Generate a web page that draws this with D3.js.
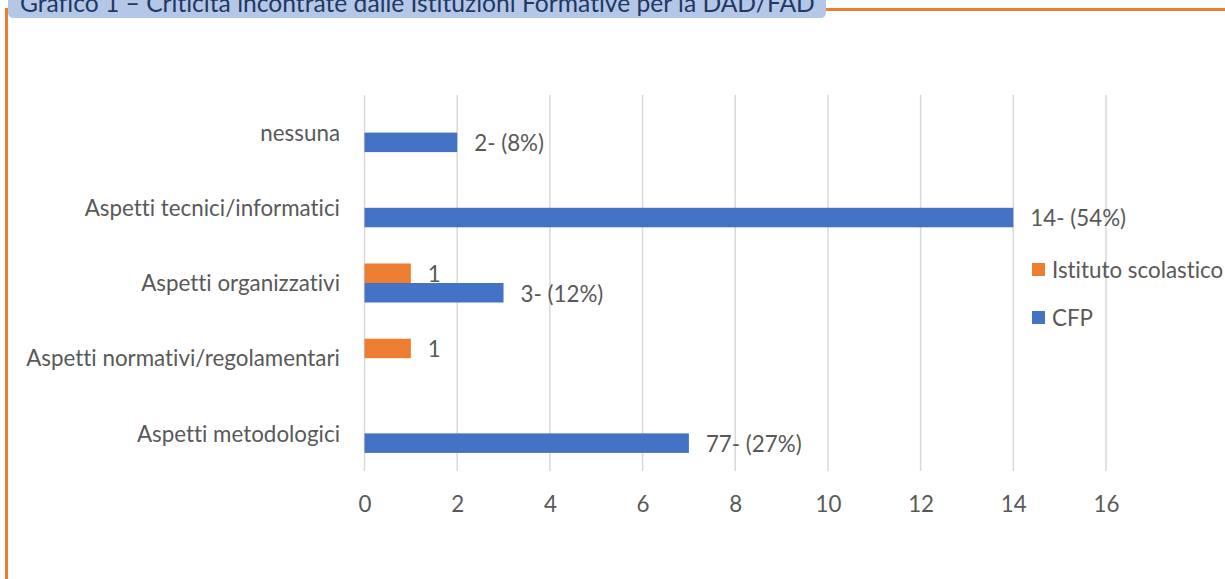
<!DOCTYPE html>
<html>
<head>
<meta charset="utf-8">
<script src="https://cdn.jsdelivr.net/npm/d3@7"></script>
<style>
  html, body { margin: 0; padding: 0; background: #fff; }
  svg { display: block; }
  text { font-variant-ligatures: none; font-feature-settings: "liga" 0, "clig" 0; }
</style>
</head>
<body>
<svg id="chart" width="1225" height="579"></svg>
<script>
const title = "Grafico 1 – Criticità incontrate dalle Istituzioni Formative per la DAD/FAD";
const categories = ["nessuna", "Aspetti tecnici/informatici", "Aspetti organizzativi", "Aspetti normativi/regolamentari", "Aspetti metodologici"];
const seriesNames = ["Istituto scolastico", "CFP"];
const istitutoValues = [null, null, 1, 1, null];
const cfpValues = [2, 14, 3, null, 7];
const istitutoLabels = ["", "", "1", "1", ""];
const cfpLabels = ["2- (8%)", "14- (54%)", "3- (12%)", "", "77- (27%)"];
const xTicks = [0, 2, 4, 6, 8, 10, 12, 14, 16];
const colors = { "Istituto scolastico": "#ED7D31", "CFP": "#4472C4" };

const svg = d3.select("#chart");
const FONT = "Lato, 'Open Sans', sans-serif";
const TXT = "#595959";

// frame lines
svg.append("line").attr("x1", 5).attr("x2", 1225).attr("y1", 9.5).attr("y2", 9.5)
  .attr("stroke", "#ED7D31").attr("stroke-width", 3);
svg.append("line").attr("x1", 6.5).attr("x2", 6.5).attr("y1", 8).attr("y2", 579)
  .attr("stroke", "#ED7D31").attr("stroke-width", 3);

// title box
svg.append("rect").attr("x", 8).attr("y", -12).attr("width", 818).attr("height", 30)
  .attr("rx", 5).attr("fill", "#B4C7E7");
const tt = svg.append("text").attr("x", 20).attr("y", 12).attr("fill", "#1F3864")
  .style("font-family", FONT).style("font-size", "20px").text(title);
const tw = tt.node().getComputedTextLength();
tt.style("font-size", (20 * 795 / tw).toFixed(2) + "px");

// scales
const x = d3.scaleLinear().domain([0, 16]).range([364.5, 1106]);
const y = d3.scaleBand().domain(categories).range([95, 471]).padding(0);
const barH = 19.5;
const sub = d3.scaleBand().domain(seriesNames).range([-barH, barH]).padding(0);

// font size fit
const probe = svg.append("text").style("font-family", FONT).style("font-size", "20px")
  .text("Aspetti normativi/regolamentari");
const pw = probe.node().getComputedTextLength();
probe.remove();
const fs = 20 * 314 / pw;

// gridlines
const g = svg.append("g");
g.selectAll("line.grid").data(xTicks).join("line")
  .attr("x1", d => x(d)).attr("x2", d => x(d))
  .attr("y1", 95).attr("y2", 471)
  .attr("stroke", "#D9D9D9").attr("stroke-width", 1.5);

// x axis tick labels
const xAxis = d3.axisBottom(x).tickValues(xTicks).tickSize(0).tickPadding(0);
const xa = svg.append("g").attr("transform", "translate(0,497)").call(xAxis);
xa.select(".domain").remove();
xa.selectAll("text").attr("fill", TXT).style("font-family", FONT).style("font-size", fs + "px")
  .attr("dy", "0.35em").attr("y", 7);

// y axis labels
const yAxis = d3.axisLeft(y).tickSize(0).tickPadding(0);
const ya = svg.append("g").attr("transform", "translate(340,1)").call(yAxis);
ya.select(".domain").remove();
ya.selectAll("text").attr("fill", TXT).style("font-family", FONT).style("font-size", fs + "px");

// bars
const rows = categories.map((c, i) => ({
  cat: c,
  vals: [
    { s: "Istituto scolastico", v: istitutoValues[i], lab: istitutoLabels[i] },
    { s: "CFP", v: cfpValues[i], lab: cfpLabels[i] }
  ]
}));
const barsG = svg.append("g");
rows.forEach(r => {
  const cy = y(r.cat) + y.bandwidth() / 2;
  r.vals.filter(d => d.v != null).forEach(d => {
    barsG.append("rect")
      .attr("x", x(0)).attr("y", cy + sub(d.s))
      .attr("width", x(d.v) - x(0)).attr("height", sub.bandwidth())
      .attr("fill", colors[d.s]);
    if (d.lab) {
      barsG.append("text")
        .attr("x", x(d.v) + 17).attr("y", cy + sub(d.s) + sub.bandwidth() / 2 + 1)
        .attr("dy", "0.35em").attr("fill", TXT)
        .style("font-family", FONT).style("font-size", fs + "px")
        .text(d.lab);
    }
  });
});

// legend
const leg = svg.append("g").attr("transform", "translate(1032,263)");
seriesNames.forEach((s, i) => {
  const gy = i * 48;
  leg.append("rect").attr("x", 0).attr("y", gy).attr("width", 13).attr("height", 13).attr("fill", colors[s]);
  leg.append("text").attr("x", 20).attr("y", gy + 7).attr("dy", "0.35em").attr("fill", TXT)
    .style("font-family", FONT).style("font-size", fs + "px").text(s);
});
</script>
</body>
</html>
